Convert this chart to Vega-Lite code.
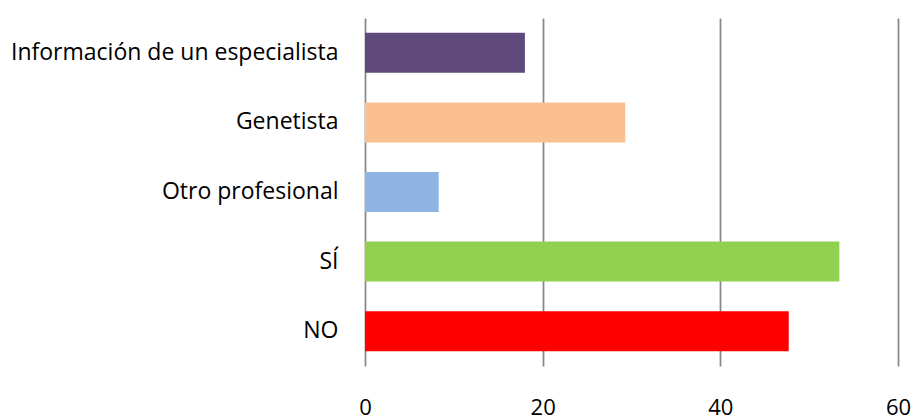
{
  "$schema": "https://vega.github.io/schema/vega-lite/v6.json",
  "width": 533,
  "height": 348,
  "autosize": {"type": "none"},
  "padding": {"left": 365, "top": 18, "right": 16, "bottom": 51},
  "background": "white",
  "config": {
    "view": {"stroke": null},
    "font": "Open Sans"
  },
  "data": {
    "values": [
      {"categoria": "Información de un especialista", "valor": 18.0},
      {"categoria": "Genetista", "valor": 29.3},
      {"categoria": "Otro profesional", "valor": 8.3},
      {"categoria": "SÍ", "valor": 53.4},
      {"categoria": "NO", "valor": 47.7}
    ]
  },
  "mark": {"type": "bar"},
  "encoding": {
    "y": {
      "field": "categoria",
      "type": "nominal",
      "sort": null,
      "scale": {"paddingInner": 0.425, "paddingOuter": 0.2125},
      "axis": {
        "title": null,
        "domain": false,
        "ticks": false,
        "grid": false,
        "labelFontSize": 23,
        "labelColor": "#000000",
        "labelPadding": 27,
        "labelFont": "Open Sans",
        "labelLimit": 400
      }
    },
    "x": {
      "field": "valor",
      "type": "quantitative",
      "scale": {"domain": [0, 60], "nice": false},
      "axis": {
        "title": null,
        "values": [0, 20, 40, 60],
        "domain": false,
        "ticks": false,
        "grid": true,
        "gridColor": "#888888",
        "gridWidth": 1.75,
        "labelFontSize": 22,
        "labelColor": "#000000",
        "labelPadding": 31,
        "labelFont": "Open Sans",
        "labelFlush": false
      }
    },
    "color": {
      "field": "categoria",
      "type": "nominal",
      "legend": null,
      "scale": {
        "domain": ["Información de un especialista", "Genetista", "Otro profesional", "SÍ", "NO"],
        "range": ["#604A7B", "#FAC090", "#8EB4E3", "#92D050", "#FF0000"]
      }
    }
  }
}
